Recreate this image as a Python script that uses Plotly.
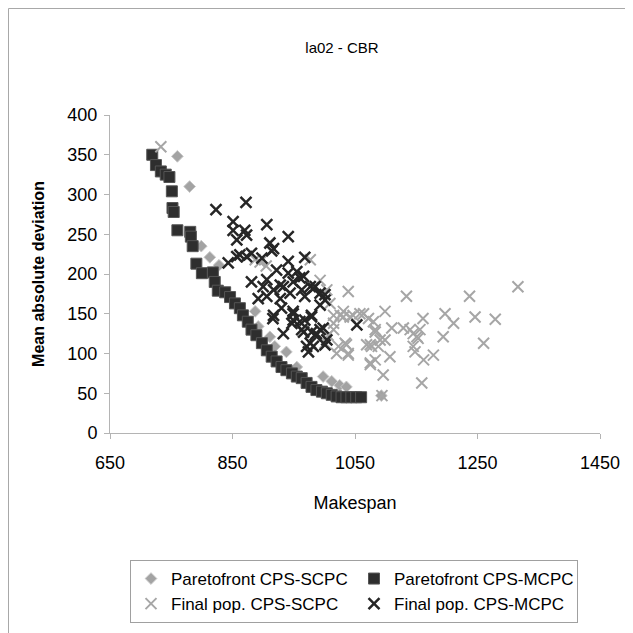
import plotly.graph_objects as go

# ---------------- data ----------------
pareto_mcpc_x = [719, 725, 733, 741, 747, 751, 752, 754, 760, 781, 782, 785, 791, 800, 818, 821,
                 826, 838, 846, 854, 862, 867, 875, 881, 889, 898, 906, 914, 922, 930, 938, 947,
                 955, 963, 971, 979, 987, 996, 1004, 1012, 1020, 1028, 1036, 1044, 1052, 1060]
pareto_mcpc_y = [350, 337, 329, 325, 322, 304, 283, 278, 255, 253, 247, 235, 213, 201, 202, 190,
                 179, 177, 171, 163, 157, 148, 140, 130, 123, 113, 104, 96, 90, 83, 79, 75,
                 71, 69, 63, 58, 54, 52, 50, 48, 46, 45, 45, 45, 45, 45]

pareto_scpc_x = [760, 780, 799, 813, 828, 887, 892, 911, 919, 938, 955, 998, 1012, 1025, 1036, 1093]
pareto_scpc_y = [348, 310, 235, 221, 211, 153, 134, 121, 109, 102, 83, 71, 65, 60, 58, 47]

final_scpc_x = [733, 887, 905, 895, 977, 993, 1039, 1004, 1009, 1015, 1026, 1042, 1058, 1015,
                1006, 1001, 1023, 1036, 1039, 1020, 1069, 1031, 1047, 1064, 1099, 1134, 1237,
                1316, 1197, 1211, 1246, 1279, 1110, 1015, 1034, 1039, 1077, 1075, 1107, 1096,
                1159, 1194, 1260, 1162, 1178, 1145, 1140, 1151, 1083, 1091, 1031, 1072, 1080,
                1083, 1129, 1145, 1153, 1099, 1075, 1088, 1083, 1075, 1148, 1094, 1156, 1161]
final_scpc_y = [360, 218, 210, 215, 218, 192, 178, 180, 163, 148, 148, 146, 150, 138,
                123, 113, 109, 111, 100, 100, 111, 153, 148, 150, 153, 172, 172,
                184, 150, 138, 146, 143, 132, 130, 113, 98, 109, 86, 96, 73,
                63, 121, 113, 92, 98, 109, 130, 121, 130, 117, 146, 144, 140,
                127, 132, 125, 119, 117, 111, 109, 92, 88, 102, 47, 130, 144]

final_mcpc_x = [823, 872, 851, 851, 870, 873, 857, 906, 941, 881, 917, 911, 914, 843, 857, 873,
                898, 968, 941, 881, 906, 928, 941, 922, 955, 960, 966, 900, 917, 933, 949, 977,
                963, 906, 892, 928, 944, 968, 993, 985, 1001, 982, 1001, 930, 949, 917, 979,
                993, 960, 947, 949, 933, 966, 979, 993, 977, 974, 971, 982, 987, 1053, 968,
                979, 998, 1004, 963, 1001, 985, 862, 916, 949]
final_mcpc_y = [281, 290, 266, 255, 255, 249, 243, 262, 247, 226, 232, 239, 229, 214, 222, 222,
                220, 221, 216, 190, 193, 186, 201, 205, 203, 195, 197, 184, 180, 184, 190, 184,
                180, 172, 169, 169, 176, 172, 176, 184, 174, 182, 167, 157, 153, 148, 148,
                161, 140, 138, 142, 125, 127, 127, 130, 113, 102, 109, 109, 125, 136, 142,
                146, 132, 117, 130, 111, 123, 224, 144, 150]

series_names = ["Paretofront CPS-SCPC", "Paretofront CPS-MCPC",
                "Final pop. CPS-SCPC", "Final pop. CPS-MCPC"]
x_ticks = [650, 850, 1050, 1250, 1450]
y_ticks = [0, 50, 100, 150, 200, 250, 300, 350, 400]

FONT = "Liberation Sans, Arial, sans-serif"

fig = go.Figure()
fig.add_trace(go.Scatter(x=pareto_scpc_x, y=pareto_scpc_y, mode="markers", name=series_names[0],
                         marker=dict(symbol="diamond", size=9, color="#a3a3a3",
                                     line=dict(color="#c8c8c8", width=1))))
fig.add_trace(go.Scatter(x=pareto_mcpc_x, y=pareto_mcpc_y, mode="markers", name=series_names[1],
                         marker=dict(symbol="square", size=11, color="#2e2e2e",
                                     line=dict(color="#555555", width=1))))
fig.add_trace(go.Scatter(x=final_scpc_x, y=final_scpc_y, mode="markers", name=series_names[2],
                         marker=dict(symbol="x-thin-open", size=11, color="#a6a6a6",
                                     line=dict(color="#a6a6a6", width=2))))
fig.add_trace(go.Scatter(x=final_mcpc_x, y=final_mcpc_y, mode="markers", name=series_names[3],
                         marker=dict(symbol="x-thin-open", size=11, color="#262626",
                                     line=dict(color="#262626", width=2.5))))

# page has an 8px body margin: figure pixel = page pixel - 8
L, T, W = 102, 107, 633
PW, PH = 490, 318

fig.update_layout(
    width=633, height=633,
    margin=dict(l=L, r=W - L - PW, t=T, b=W - T - PH, autoexpand=False),
    paper_bgcolor="white", plot_bgcolor="white",
    font=dict(family=FONT, color="black", size=18),
    title=dict(text="la02 - CBR", x=334 / W, xanchor="center",
               y=1 - 40 / W, yanchor="middle", font=dict(size=15)),
    xaxis=dict(range=[650, 1450], tickvals=x_ticks, showgrid=False, zeroline=False,
               showline=True, linecolor="#b4b4b4", ticks="outside", ticklen=5,
               tickcolor="#b4b4b4", tickfont=dict(size=18), ticklabelstandoff=8,
               title=dict(text="Makespan", font=dict(size=18), standoff=24)),
    yaxis=dict(range=[0, 400], tickvals=y_ticks, showgrid=False, zeroline=False,
               showline=True, linecolor="#b4b4b4", ticks="outside", ticklen=5,
               tickcolor="#b4b4b4", tickfont=dict(size=18), ticklabelstandoff=3,
               title=dict(text="<b>Mean absolute deviation</b>", font=dict(size=16), standoff=18)),
    legend=dict(orientation="h", x=(122 - L) / PW, xanchor="left",
                y=(T + PH - 552) / PH, yanchor="top",
                bordercolor="#a0a0a0", borderwidth=1, bgcolor="white",
                font=dict(size=17), entrywidth=178, entrywidthmode="pixels",
                itemwidth=30),
    showlegend=True,
    shapes=[dict(type="rect", xref="paper", yref="paper",
                 x0=(0.5 - L) / PW, x1=1.2, y0=-1.0, y1=(T + PH - 0.5) / PH,
                 line=dict(color="#a8a8a8", width=1), layer="below")],
)

fig.write_html("out.html")
